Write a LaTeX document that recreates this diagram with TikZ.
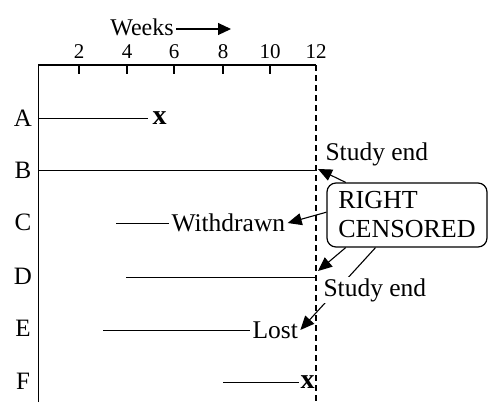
\documentclass[tikz,border=0pt]{standalone}
\usepackage{fontspec}
\setmainfont{Liberation Serif}
\usetikzlibrary{arrows.meta}
\begin{document}
\begin{tikzpicture}[
      x=1pt, y=-1pt, line width=1pt,
      eje/.style={line width=1.2pt},
      fin/.style={dash pattern=on 6pt off 4pt, line width=1.2pt},
      fila/.style={font=\fontsize{25}{29}\selectfont},
      num/.style={font=\fontsize{21}{24}\selectfont},
      texto/.style={font=\fontsize{25.5}{29}\selectfont, inner sep=2pt},
      cruz/.style={font=\fontsize{28}{30}\selectfont\bfseries, inner sep=1pt},
      caja/.style={draw, rounded corners=9pt, align=left, line width=1.2pt,
                   font=\fontsize{26}{29}\selectfont,
                   minimum width=160pt, minimum height=64pt},
      flecha/.style={-{Triangle[length=14pt,width=12pt]}, line width=1.1pt}
    ]
    \useasboundingbox (0,0) rectangle (503,413);
    % ejes
    \draw[eje] (38.5,402) -- (38.5,65) -- (316,65);
    \draw[fin] (316,65) -- (316,402);
    \foreach \x/\w in {79/2,127/4,174/6,223/8,270/10} {
      \draw[eje] (\x,65) -- (\x,74);
      \node[num] (t\w) at (\x,52) {\w};
    }
    \node[num] (t12) at (316,52) {12};
    \node[font=\fontsize{24}{28}\selectfont, inner sep=2pt] (wk) at (142,27) {Weeks};
    \coordinate (wkend) at (231,29);
    \draw[-{Triangle[length=13pt,width=12pt]}, line width=1.1pt] (wk.east |- wkend) -- (wkend);

    % filas
    \node[fila] (A) at (23,118) {A};
    \node[fila] (B) at (23,170) {B};
    \node[fila] (C) at (23,222) {C};
    \node[fila] (D) at (23,276) {D};
    \node[fila] (E) at (23,328) {E};
    \node[fila] (F) at (23,381) {F};

    % A
    \node[cruz, anchor=west] (xa) at (151,118) {x};
    \draw (38.5,118) -- (148,118);
    % B
    \coordinate (b0) at (38.5,170.5);
    \coordinate (b1) at (316,170.5);
    \draw (b0) -- (b1);
    \node[texto, anchor=west] (sb) at (323,154) {Study end};
    % C
    \node[texto, anchor=west] (wd) at (169,223) {Withdrawn};
    \draw (116,223) -- (wd.west);
    % D
    \coordinate (d0) at (126,277.5);
    \coordinate (d1) at (315,277.5);
    \draw (d0) -- (d1);
    % E
    \node[texto, anchor=west] (lost) at (250,330) {Lost};
    \draw (103,330) -- (lost.west);
    % F
    \node[cruz, anchor=west] (xf) at (299,382) {x};
    \draw (223,382) -- (xf.west);

    % right censored
    \node[caja] (rc) at (407,215) {RIGHT\\CENSORED};
    \coordinate (tb) at (318,169);
    \coordinate (td) at (318,271);
    \draw[flecha] (rc.152.7) -- (tb);
    \draw[flecha] (rc.178) -- (wd.east);
    \draw[flecha] (rc.208) -- (td);
    \draw[flecha] (rc.226.8) -- (lost.east);
    \node[texto, anchor=west, fill=white, inner sep=1pt] (sd) at (322,290) {Study end};
  \end{tikzpicture}
\end{document}
